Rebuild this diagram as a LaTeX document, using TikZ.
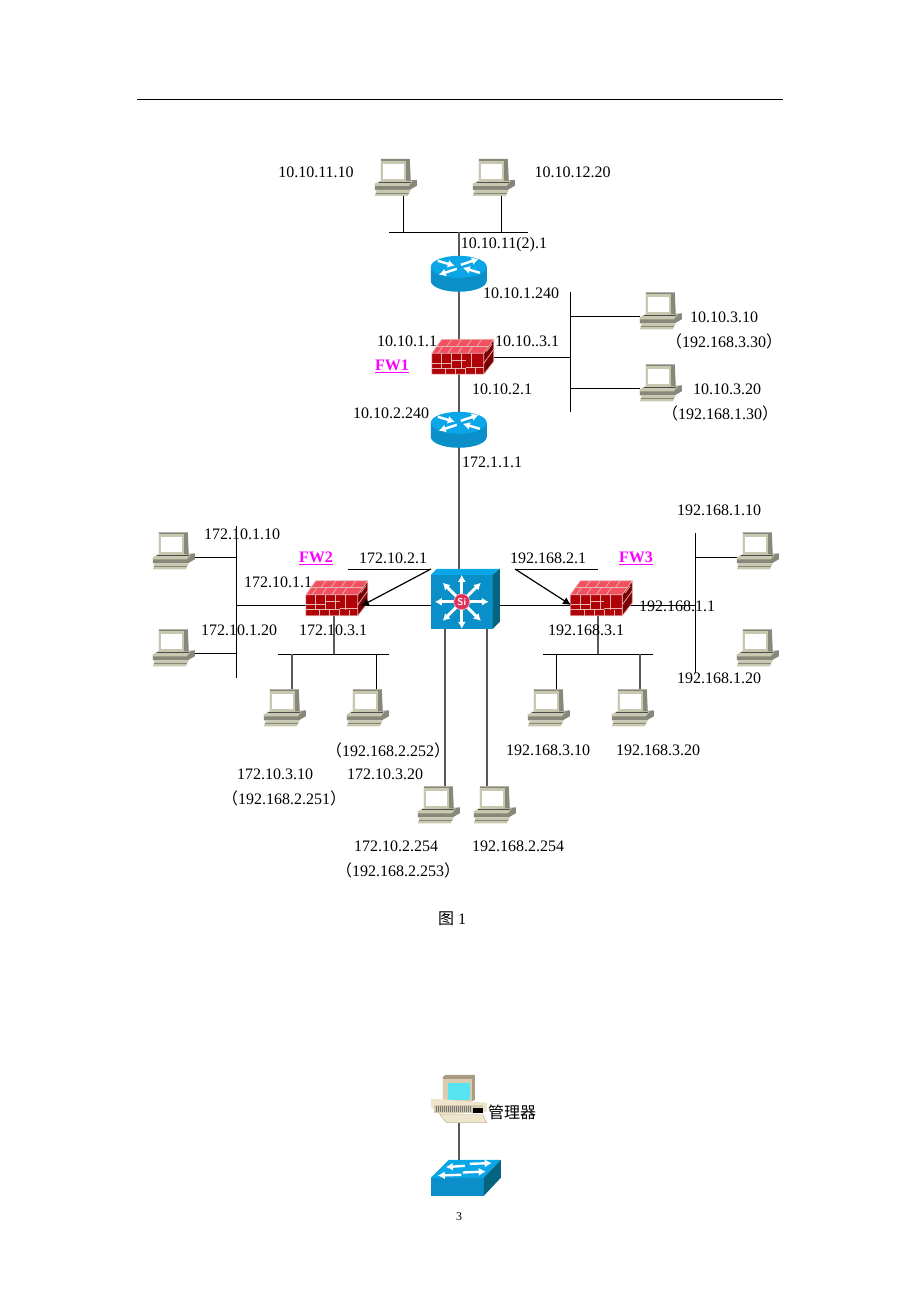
\documentclass[tikz,border=0pt]{standalone}
\usepackage{fontspec}
\usetikzlibrary{arrows.meta}
\setmainfont{Liberation Serif}
\newfontfamily\cjk{Noto Sans CJK SC}
\definecolor{pcLight}{HTML}{C8C8B0}
\definecolor{pcDark}{HTML}{88887A}
\definecolor{brickTop}{HTML}{F2505F}
\definecolor{brickFront}{HTML}{B00308}
\definecolor{brickSide}{HTML}{7A0004}
\definecolor{mortar}{HTML}{E8B4B4}
\definecolor{netTop}{HTML}{0AA6E8}
\definecolor{netFront}{HTML}{0A8FC8}
\definecolor{netSide}{HTML}{05647F}
\definecolor{fwName}{HTML}{FF00FF}
\definecolor{siRed}{HTML}{E0305A}
\definecolor{mgrLight}{HTML}{EFE4CC}
\definecolor{mgrMid}{HTML}{D8CCB0}
\definecolor{mgrDark}{HTML}{A89C84}
\definecolor{mgrScreen}{HTML}{55E4F0}
\newcommand{\altip}[1]{{\cjk （}#1{\cjk ）}}
\tikzset{
	wire/.style={black, line width=1pt},
	trunk/.style={black!65, line width=1.2pt},
	leader/.style={black, line width=1.2pt},
	lab/.style={font=\fontsize{16}{18}\selectfont, inner sep=0pt},
	fwlab/.style={font=\fontsize{16}{18}\selectfont\bfseries, text=fwName, inner sep=0pt},
	pcbox/.style={minimum width=42pt, minimum height=37pt, inner sep=0pt},
	rtbox/.style={minimum width=56pt, minimum height=36pt, inner sep=0pt},
	fwbox/.style={minimum width=62pt, minimum height=35pt, inner sep=0pt},
	bigtip/.style={-{Latex[length=8pt,width=8pt]}},
	whitetip/.style={white, line width=2.4pt, -{Latex[length=7pt,width=8pt]}},
	pcicon/.pic={
		\fill[pcDark] (6,0) -- (35,0) -- (36,22) -- (6,24) -- cycle;
		\fill[pcLight] (6,2) -- (31,2) -- (31,23) -- (6,23) -- cycle;
		\fill[white] (8,5) rectangle (29,20);
		\fill[pcDark] (0,25) -- (42,21) -- (42,27) -- (35,31) -- (0,31) -- cycle;
		\fill[pcLight] (0,25) -- (5,22) -- (38,22) -- (34,27) -- (0,27) -- cycle;
		\draw[black!70, line width=.6pt] (4,23) -- (36,23);
		\fill[pcLight] (2,31) -- (36,31) -- (33,37) -- (0,37) -- cycle;
		\draw[pcDark, line width=.6pt] (1,34) -- (34,34);
	},
	rticon/.pic={
		\fill[netFront] (0,11) -- (0,25) arc[start angle=180, end angle=360, x radius=28, y radius=-11] -- (56,11) -- cycle;
		\fill[netTop] (28,11) ellipse[x radius=28, y radius=11];
		\draw[whitetip] (7,5) -- (24,10);
		\draw[whitetip] (49,17) -- (32,12);
		\draw[whitetip] (26,13) -- (8,19);
		\draw[whitetip] (30,9) -- (48,3);
	},
	fwicon/.pic={
		\fill[brickTop] (0,14) -- (10,0) -- (62,0) -- (52,14) -- cycle;
		\fill[brickFront] (0,14) rectangle (52,35);
		\fill[brickSide] (52,14) -- (62,0) -- (62,22) -- (52,35) -- cycle;
		\draw[mortar, line width=.7pt] (0,14) -- (10,0) -- (62,0) -- (62,22) -- (52,35) -- (0,35) -- cycle (0,14) -- (52,14) -- (62,0) (52,14) -- (52,35);
		\draw[mortar, line width=.7pt] (5,7) -- (57,7) (0,24) -- (20,24) (20,21) -- (34,21) (34,28) -- (52,28) (0,29) -- (34,29);
		\foreach \bx in {10,20,30,40} {
			\draw[mortar, line width=.7pt] (\bx,14) -- (\bx,29) (\bx+4,29) -- (\bx+4,35);
			\draw[mortar, line width=.7pt] (\bx+10,0) -- (\bx+5,7) (\bx+1,7) -- (\bx-4,14);
		}
		\draw[mortar, line width=.7pt] (55,12) -- (60,5) (52,24) -- (62,10);
	},
	swicon/.pic={
		\fill[netTop] (0,6) -- (6,0) -- (69,0) -- (62,6) -- cycle;
		\fill[netFront] (0,6) rectangle (62,60);
		\fill[netSide] (62,6) -- (69,0) -- (69,53) -- (62,60) -- cycle;
		\foreach \ang in {0,45,...,315} {
			\draw[whitetip, line width=3pt] (31,33) -- ++(\ang:27);
		}
		\fill[siRed, draw=pink, line width=.6pt] (31,33) circle[radius=8];
		\node[text=white, font=\sffamily\bfseries\fontsize{10}{10}\selectfont, inner sep=0pt] (siMark) at (31,33) {Si};
	},
	hubicon/.pic={
		\fill[netTop] (0,18) -- (18,0) -- (70,0) -- (53,18) -- cycle;
		\fill[netFront] (0,18) rectangle (53,36);
		\fill[netSide] (53,18) -- (70,0) -- (70,18) -- (53,36) -- cycle;
		\draw[whitetip] (34,6) -- (15,7.3);
		\draw[whitetip] (39,4) -- (61,3.3);
		\draw[whitetip] (30.5,15) -- (7,15.7);
		\draw[whitetip] (32,12.7) -- (55,11.7);
	},
	mgricon/.pic={
		\fill[mgrDark] (12,2) -- (15,0) -- (44,0) -- (44,25) -- (40,27) -- (12,27) -- cycle;
		\fill[mgrMid] (12,4) rectangle (41,27);
		\fill[mgrScreen] (17,8) rectangle (39,25);
		\fill[mgrLight] (0,24) -- (3,24) -- (56,28) -- (56,37) -- (9,40) -- (0,32) -- cycle;
		\fill[mgrMid] (3,30) rectangle (52,38);
		\foreach \vx in {5,7,...,40} {
			\draw[black!55, line width=.4pt] (\vx,31) -- (\vx,37);
		}
		\fill[black] (42,33) rectangle (52,38);
		\fill[mgrLight, draw=mgrDark, line width=.3pt] (9,40) -- (52,40) -- (56,48) -- (16,48) -- cycle;
	},
}
\begin{document}
\begin{tikzpicture}[x=1pt, y=-1pt]
	\useasboundingbox (0,0) rectangle (920,1302);
	\coordinate (ruleL) at (137,99);
	\coordinate (ruleR) at (783,99);
	\draw[wire] (ruleL) -- (ruleR);

	% device places
	\foreach \nm/\px/\py in {pcA/396/177.5, pcB/494/177.5, pcC/661/311, pcD/661/383, pcE/174/551, pcF/174/648, pcG/285/708, pcH/368/708, pcI/549/708, pcJ/633/708, pcK/758/551, pcL/758/648, pcM/439/805, pcN/495/805}
		\node[pcbox] (\nm) at (\px,\py) {};
	\node[rtbox] (rtA) at (459,274) {};
	\node[rtbox] (rtB) at (459,430) {};
	\node[fwbox] (fwA) at (463,357) {};
	\node[fwbox] (fwB) at (337,598.5) {};
	\node[fwbox] (fwC) at (601.5,598.5) {};
	\node[minimum width=69pt, minimum height=60pt, inner sep=0pt] (swMain) at (465.5,599) {};
	\node[minimum width=70pt, minimum height=36pt, inner sep=0pt] (swMgr) at (466,1178) {};
	\node[minimum width=56pt, minimum height=48pt, inner sep=0pt] (pcMgr) at (459,1099) {};

	% buses
	\coordinate (topL) at (389,232);
	\coordinate (topR) at (528,232);
	\coordinate (eastT) at (570,292);
	\coordinate (eastB) at (570,412);
	\coordinate (westT) at (236,526);
	\coordinate (westB) at (236,678);
	\coordinate (westM) at (236,605);
	\coordinate (farT) at (695,533);
	\coordinate (farB) at (695,673);
	\coordinate (farM) at (695,605);
	\coordinate (lowAL) at (278,654);
	\coordinate (lowAR) at (389,654);
	\coordinate (lowBL) at (543,654);
	\coordinate (lowBR) at (653,654);
	\draw[wire] (topL) -- (topR);
	\draw[wire] (eastT) -- (eastB);
	\draw[wire] (westT) -- (westB);
	\draw[wire] (farT) -- (farB);
	\draw[wire] (lowAL) -- (lowAR);
	\draw[wire] (lowBL) -- (lowBR);

	% connectors
	\draw[wire] ([xshift=7pt]pcA.south) -- ([xshift=7pt]pcA.south |- topL);
	\draw[wire] ([xshift=7pt]pcB.south) -- ([xshift=7pt]pcB.south |- topL);
	\draw[trunk] (rtA |- topL) -- (rtA);
	\draw[trunk] (rtA) -- (rtB);
	\draw[trunk] (rtB) -- (rtB |- swMain.north);
	\draw[wire] (fwA) -- (fwA -| eastB);
	\draw[wire] (eastB |- pcC.west) ++(0,5) -- ([yshift=-5pt]pcC.west);
	\draw[wire] (eastB |- pcD.west) ++(0,5) -- ([yshift=-5pt]pcD.west);
	\draw[wire] (westM) -- (swMain.west |- westM);
	\draw[wire] (swMain.east |- farM) -- (farM);
	\draw[wire] ([yshift=-6pt]pcE.east) -- ([yshift=-6pt]pcE.east -| westT);
	\draw[wire] ([yshift=-5pt]pcF.east) -- ([yshift=-5pt]pcF.east -| westT);
	\draw[wire] ([yshift=-6pt]pcK.west) -- ([yshift=-6pt]pcK.west -| farT);
	\draw[trunk] ([xshift=-3pt]fwB.south) -- ([xshift=-3pt]fwB.south |- lowAL);
	\draw[trunk] ([xshift=-3.5pt]fwC.south) -- ([xshift=-3.5pt]fwC.south |- lowBL);
	\draw[trunk] ([xshift=7pt]pcG.north) -- ([xshift=7pt]pcG.north |- lowAL);
	\draw[wire] ([xshift=8pt]pcH.north) -- ([xshift=8pt]pcH.north |- lowAL);
	\draw[wire] ([xshift=7pt]pcI.north) -- ([xshift=7pt]pcI.north |- lowBL);
	\draw[trunk] ([xshift=7pt]pcJ.north) -- ([xshift=7pt]pcJ.north |- lowBL);
	\draw[trunk] ([xshift=6pt]pcM.north) -- ([xshift=6pt]pcM.north |- swMain.south);
	\draw[trunk] ([xshift=-8pt]pcN.north) -- ([xshift=-8pt]pcN.north |- swMain.south);
	\draw[trunk] (pcMgr.south) -- (pcMgr.south |- swMgr.north);

	% icons
	\foreach \nm in {pcA,pcB,pcC,pcD,pcE,pcF,pcG,pcH,pcI,pcJ,pcK,pcL,pcM,pcN}
		\pic at (\nm.north west) {pcicon};
	\pic at (rtA.north west) {rticon};
	\pic at (rtB.north west) {rticon};
	\pic at (fwA.north west) {fwicon};
	\pic at (fwB.north west) {fwicon};
	\pic at (fwC.north west) {fwicon};
	\pic at (swMain.north west) {swicon};
	\pic at (swMgr.north west) {hubicon};
	\pic at (pcMgr.north west) {mgricon};

	% leaders with arrows
	\coordinate (leadBL) at (348,569);
	\coordinate (leadBR) at (431,569);
	\coordinate (leadBtip) at (361,606);
	\coordinate (leadCL) at (515,569);
	\coordinate (leadCR) at (598,569);
	\coordinate (leadCtip) at (571,605);
	\draw[wire] (leadBL) -- (leadBR);
	\draw[leader,bigtip] (leadBR) -- (leadBtip);
	\draw[wire] (leadCL) -- (leadCR);
	\draw[leader,bigtip] (leadCL) -- (leadCtip);

	% labels
	\node[lab] (ipA) at (316,172) {10.10.11.10};
	\node[lab] (ipB) at (572.5,172) {10.10.12.20};
	\node[lab] (ipC) at (504,245) {10.10.11(2).1};
	\node[lab] (ipD) at (521,293) {10.10.1.240};
	\node[lab] (ipE) at (407,341) {10.10.1.1};
	\node[lab] (ipF) at (527,341) {10.10..3.1};
	\node[lab] (ipG) at (502,389) {10.10.2.1};
	\node[lab] (ipH) at (391,413) {10.10.2.240};
	\node[lab] (ipI) at (492,462) {172.1.1.1};
	\node[lab] (ipJ) at (724,317) {10.10.3.10};
	\node[lab] (ipK) at (724,341) {\altip{192.168.3.30}};
	\node[lab] (ipL) at (727,389) {10.10.3.20};
	\node[lab] (ipM) at (720,413) {\altip{192.168.1.30}};
	\node[lab] (ipN) at (719,510) {192.168.1.10};
	\node[lab] (ipO) at (242,534) {172.10.1.10};
	\node[lab] (ipP) at (393,558) {172.10.2.1};
	\node[lab] (ipQ) at (548,558) {192.168.2.1};
	\node[lab] (ipR) at (278,582) {172.10.1.1};
	\node[lab] (ipS) at (677,606) {192.168.1.1};
	\node[lab] (ipT) at (239,630) {172.10.1.20};
	\node[lab] (ipU) at (333,630) {172.10.3.1};
	\node[lab] (ipV) at (586,630) {192.168.3.1};
	\node[lab] (ipW) at (719,678) {192.168.1.20};
	\node[lab] (ipX) at (388,750) {\altip{192.168.2.252}};
	\node[lab] (ipY) at (548,750) {192.168.3.10};
	\node[lab] (ipZ) at (658,750) {192.168.3.20};
	\node[lab] (ipAa) at (275,774) {172.10.3.10};
	\node[lab] (ipAb) at (385,774) {172.10.3.20};
	\node[lab] (ipAc) at (284,798) {\altip{192.168.2.251}};
	\node[lab] (ipAd) at (396,846) {172.10.2.254};
	\node[lab] (ipAe) at (518,846) {192.168.2.254};
	\node[lab] (ipAf) at (398,870) {\altip{192.168.2.253}};
	\node[fwlab] (nameA) at (392,366) {\underline{FW1}};
	\node[fwlab] (nameB) at (316,558) {\underline{FW2}};
	\node[fwlab] (nameC) at (636,558) {\underline{FW3}};
	\node[lab] (figCap) at (452,919) {{\cjk 图} 1};
	\node[lab] (mgrCap) at (512,1112) {\cjk 管理器};
	\node[lab, font=\fontsize{12}{14}\selectfont] (pageNo) at (459,1217) {3};
\end{tikzpicture}
\end{document}
